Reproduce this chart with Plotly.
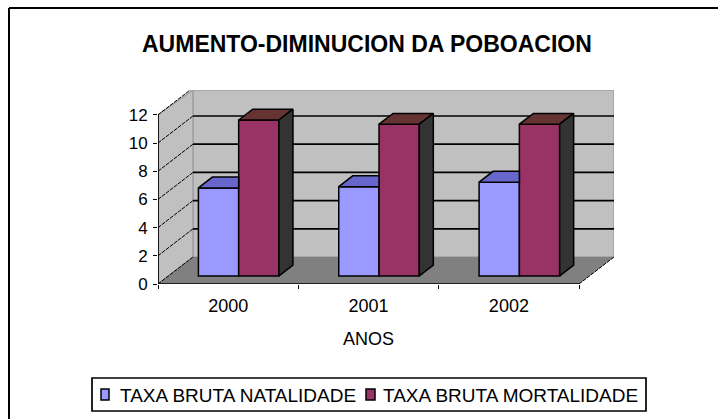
import plotly.graph_objects as go

years = ["2000", "2001", "2002"]
natalidade = [6.24, 6.33, 6.65]
mortalidade = [11.06, 10.76, 10.76]
y_ticks = [0, 2, 4, 6, 8, 10, 12]
title_text = "AUMENTO-DIMINUCION DA POBOACION"
x_title = "ANOS"
name_a = "TAXA BRUTA NATALIDADE"
name_b = "TAXA BRUTA MORTALIDADE"

W, H = 718, 419
L, R, T, B = 158, 614, 90, 284   # plot box in pixels
XMAX, YMAX = 3.249, 13.76
DX, DY = 0.2494, 1.915           # oblique depth of the box in axis units
F0, F1 = 0.30, 0.70              # depth span of the bars
BW = 0.287
BLUE, BLUE_TOP = "#9999ff", "#6666cc"
RED, RED_TOP, RED_SIDE = "#993366", "#663333", "#333333"
WALL, FLOOR = "#c0c0c0", "#808080"

def px(x):
    return (x - L) / (R - L)
def py(y):
    return (B - y) / (B - T)

fig = go.Figure()
centers = [i + 0.5 + F0 * DX for i in range(len(years))]
base = F0 * DY
ddx, ddy = (F1 - F0) * DX, (F1 - F0) * DY

fig.add_bar(x=centers, y=natalidade, base=base, width=BW, offset=-BW, name=name_a,
            marker=dict(color=BLUE, line=dict(color="black", width=1.5)), showlegend=False)
fig.add_bar(x=centers, y=mortalidade, base=base, width=BW, offset=0, name=name_b,
            marker=dict(color=RED, line=dict(color="black", width=1.5)), showlegend=False)

def poly(xs, ys, color):
    fig.add_scatter(x=xs + xs[:1], y=ys + ys[:1], mode="lines", fill="toself", fillcolor=color,
                    line=dict(color="black", width=1.5), hoverinfo="skip", showlegend=False)

for c, a, b in zip(centers, natalidade, mortalidade):
    ta = base + a
    poly([c - BW, c - BW + ddx, c, c], [ta, ta + ddy, ta + ddy, ta], BLUE_TOP)
    tb = base + b
    poly([c, c + ddx, c + BW + ddx, c + BW], [tb, tb + ddy, tb + ddy, tb], RED_TOP)
    poly([c + BW, c + BW + ddx, c + BW + ddx, c + BW], [tb, tb + ddy, base + ddy, base], RED_SIDE)

def path(pts):
    return "M" + " L".join(f"{x},{y}" for x, y in pts) + " Z"

shapes = [
    dict(type="path", path=path([(DX, DY), (XMAX, DY), (XMAX, YMAX), (DX, YMAX)]),
         fillcolor=WALL, line=dict(color="#a0a0a0", width=1.5), layer="below"),
    dict(type="path", path=path([(0, 0), (DX, DY), (DX, YMAX), (0, 12)]),
         fillcolor=WALL, line=dict(color="#a0a0a0", width=1.5), layer="below"),
    dict(type="path", path=path([(0, 0), (3, 0), (XMAX, DY), (DX, DY)]),
         fillcolor=FLOOR, line=dict(width=0), layer="below"),
]
for t in y_ticks[1:-1]:
    shapes.append(dict(type="line", x0=DX, x1=XMAX, y0=t + DY, y1=t + DY,
                       line=dict(color="black", width=1.7), layer="below"))
for t in y_ticks:
    shapes.append(dict(type="line", x0=0, x1=DX, y0=t, y1=t + DY,
                       line=dict(color="black", width=1, dash="4px,1px"), layer="below"))
shapes += [
    dict(type="line", x0=0, x1=0, y0=0, y1=12, line=dict(color="black", width=1.7), layer="below"),
    dict(type="line", x0=0, x1=3, y0=0, y1=0, line=dict(color="black", width=1.7), layer="below"),
    dict(type="line", x0=3, x1=XMAX, y0=0, y1=DY, line=dict(color="black", width=1, dash="4px,1px"), layer="below"),
]
# frame: only top and left edges show in the crop
shapes += [
    dict(type="line", xref="paper", yref="paper", x0=px(9), x1=px(718), y0=py(8), y1=py(8),
         line=dict(color="black", width=2)),
    dict(type="line", xref="paper", yref="paper", x0=px(9), x1=px(9), y0=py(8), y1=py(419),
         line=dict(color="black", width=2)),
]
# legend
shapes += [
    dict(type="rect", xref="paper", yref="paper", x0=px(92), x1=px(646), y0=py(378), y1=py(411),
         line=dict(color="black", width=1.7), fillcolor="white"),
    dict(type="rect", xref="paper", yref="paper", x0=px(101), x1=px(109), y0=py(389), y1=py(400),
         line=dict(color="black", width=1.5), fillcolor=BLUE),
    dict(type="rect", xref="paper", yref="paper", x0=px(366), x1=px(375), y0=py(389), y1=py(400),
         line=dict(color="black", width=1.5), fillcolor=RED),
]
font = "Liberation Sans"
def label(text, x, y, size=19):
    return dict(text=text, xref="paper", yref="paper", x=px(x), y=py(y), xanchor="left", yanchor="middle",
                showarrow=False, font=dict(family=font, size=size, color="black"))
annotations = [label(name_a, 118, 395), label(name_b, 381, 395),
               dict(text=x_title, xref="paper", yref="paper", x=px(368), y=py(339), xanchor="center",
                    yanchor="middle", showarrow=False, font=dict(family=font, size=18, color="black")),
               dict(text="<b>" + title_text + "</b>", xref="paper", yref="paper", x=px(367), y=py(44),
                    xanchor="center", yanchor="middle", showarrow=False,
                    font=dict(family=font, size=23, color="black"))]

fig.update_layout(
    width=W, height=H, autosize=False,
    margin=dict(l=L, r=W - R, t=T, b=H - B, pad=0),
    paper_bgcolor="white", plot_bgcolor="white",
    shapes=shapes, annotations=annotations, showlegend=False,
    font=dict(family=font, size=13, color="black"),
    xaxis=dict(range=[0, XMAX], showgrid=False, zeroline=False, showline=False, automargin=False,
               tickmode="array", tickvals=[0.5, 1.5, 2.5], ticktext=years, ticks="", ticklabelstandoff=9,
               minor=dict(tickmode="array", tickvals=[0, 1, 2, 3], ticks="outside", ticklen=4,
                          tickcolor="black", tickwidth=1.2, showgrid=False),
               tickfont=dict(family=font, size=18)),
    yaxis=dict(range=[0, YMAX], showgrid=False, zeroline=False, showline=False, automargin=False,
               tickmode="array", tickvals=y_ticks, ticks="outside", ticklen=4, tickcolor="black", tickwidth=1.2,
               ticklabelstandoff=2, tickfont=dict(family=font, size=17)),
)
fig.write_html("out.html", config=dict(displayModeBar=False),
               post_script="document.body.style.margin='0';document.body.style.overflow='hidden';")
